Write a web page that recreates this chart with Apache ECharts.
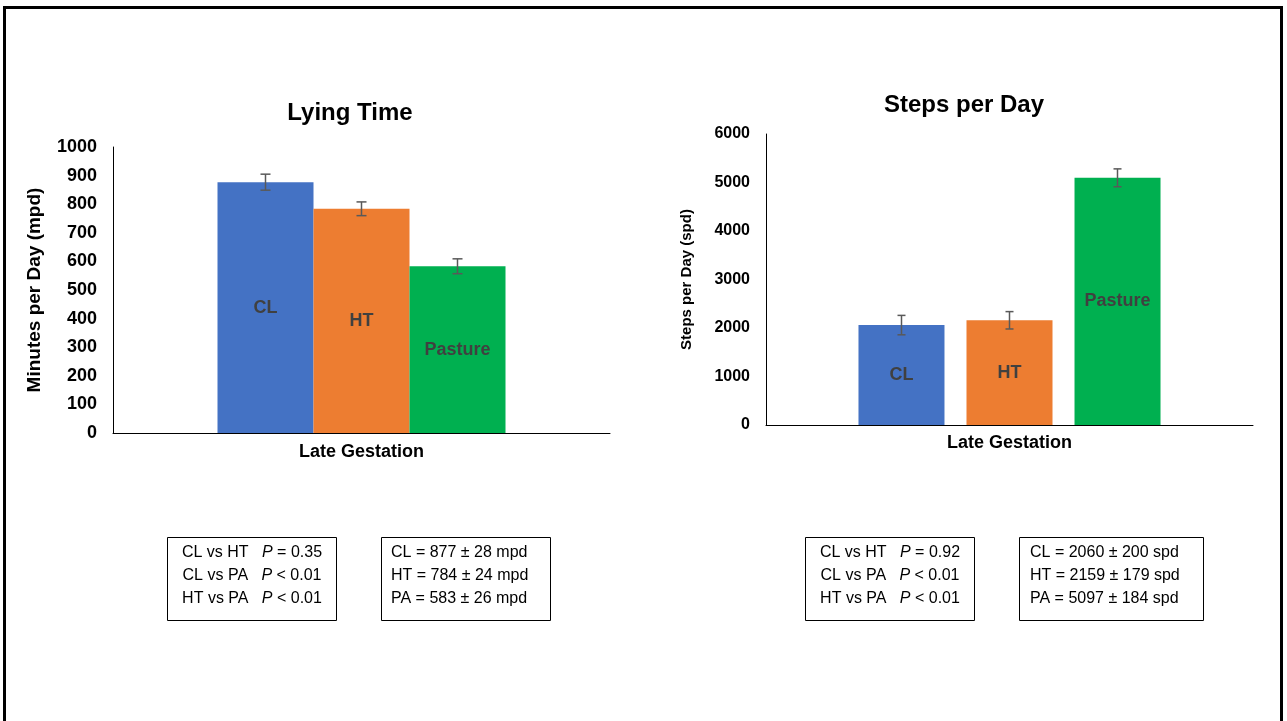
<!DOCTYPE html>
<html>
<head>
<meta charset="utf-8">
<script src="https://cdn.jsdelivr.net/npm/echarts@6/dist/echarts.min.js"></script>
<style>
  html, body { margin: 0; padding: 0; background: #fff; }
  #chart { width: 1287px; height: 721px; }
</style>
</head>
<body>
<div id="chart"></div>
<script>
// Groups and the single period shown on the x axis
const groups = ['CL', 'HT', 'Pasture'];
const groupAbbr = ['CL', 'HT', 'PA'];
const period = ['Late Gestation'];

// Lying time, minutes per day (mean and SD)
const lyingMean = [877, 784, 583];
const lyingSd = [28, 24, 26];

// Steps per day (mean and SD)
const stepsMean = [2060, 2159, 5097];
const stepsSd = [200, 179, 184];

// Pairwise comparisons
const comparisons = ['CL vs HT', 'CL vs PA', 'HT vs PA'];
const lyingP = ['= 0.35', '< 0.01', '< 0.01'];
const stepsP = ['= 0.92', '< 0.01', '< 0.01'];

const colors = ['#4472C4', '#ED7D31', '#00B050'];
const FONT = '"Liberation Sans", Arial, Helvetica, sans-serif';

const chart = echarts.init(document.getElementById('chart'));

// Error whiskers drawn on top of grouped bars
function whiskers(barW, gap, cap) {
  return function (params, api) {
    const k = params.dataIndex;
    const mean = api.value(1), sd = api.value(2);
    const hi = api.coord([0, mean + sd]);
    const lo = api.coord([0, mean - sd]);
    const x = hi[0] + (k - (groups.length - 1) / 2) * (barW + gap);
    const st = { stroke: '#595959', lineWidth: 1.5 };
    return {
      type: 'group',
      children: [
        { type: 'line', shape: { x1: x, y1: hi[1], x2: x, y2: lo[1] }, style: st },
        { type: 'line', shape: { x1: x - cap, y1: hi[1], x2: x + cap, y2: hi[1] }, style: st },
        { type: 'line', shape: { x1: x - cap, y1: lo[1], x2: x + cap, y2: lo[1] }, style: st }
      ]
    };
  };
}

function barSeries(means, gridIdx, barW, gapPct, fontSize) {
  return groups.map((g, i) => ({
    type: 'bar',
    name: g,
    xAxisIndex: gridIdx,
    yAxisIndex: gridIdx,
    data: [means[i]],
    barWidth: barW,
    barGap: gapPct,
    itemStyle: { color: colors[i] },
    label: {
      show: true, position: 'inside', formatter: '{a}',
      color: '#404040', fontWeight: 'bold', fontSize: fontSize, fontFamily: FONT
    }
  }));
}

function yAxis(gridIdx, max, interval, name, nameSize, nameGap, labelSize) {
  return {
    type: 'value', gridIndex: gridIdx, min: 0, max: max, interval: interval,
    name: name, nameLocation: 'middle', nameGap: nameGap,
    nameTextStyle: { color: '#000', fontWeight: 'bold', fontSize: nameSize, fontFamily: FONT },
    axisLine: { show: true, lineStyle: { color: '#000', width: 1 } },
    axisTick: { show: false },
    splitLine: { show: false },
    axisLabel: {
      color: '#000', fontWeight: 'bold', fontSize: labelSize, fontFamily: FONT, margin: 16,
      formatter: v => String(v)
    }
  };
}

function xAxis(gridIdx, margin) {
  return {
    type: 'category', gridIndex: gridIdx, data: period,
    axisLine: { show: true, lineStyle: { color: '#000', width: 1 } },
    axisTick: { show: false },
    axisLabel: { color: '#000', fontWeight: 'bold', fontSize: 18, fontFamily: FONT, margin: margin }
  };
}

// Summary boxes below each chart
function textBox(x, y, w, h) {
  return { type: 'rect', shape: { x: x, y: y, width: w, height: h },
    style: { fill: '#fff', stroke: '#000', lineWidth: 1 }, z: 10 };
}
function pLines(cx, y0, pvals) {
  return comparisons.map((c, i) => ({
    type: 'text', z: 11,
    style: {
      x: cx, y: y0 + i * 23, align: 'center', verticalAlign: 'middle',
      text: '{n|' + c + '   }{i|P}{n| ' + pvals[i] + '}',
      rich: {
        n: { fontSize: 16, fontFamily: FONT, fill: '#000' },
        i: { fontSize: 16, fontFamily: FONT, fontStyle: 'italic', fill: '#000' }
      }
    }
  }));
}
function meanLines(x, y0, means, sds, unit) {
  return groupAbbr.map((a, i) => ({
    type: 'text', z: 11,
    style: {
      x: x, y: y0 + i * 23, align: 'left', verticalAlign: 'middle',
      text: a + ' = ' + means[i] + ' \u00b1 ' + sds[i] + ' ' + unit,
      fontSize: 16, fontFamily: FONT, fill: '#000'
    }
  }));
}

const option = {
  animation: false,
  backgroundColor: '#fff',
  grid: [
    { left: 113, top: 147, width: 497, height: 286 },
    { left: 766, top: 134, width: 487, height: 291 }
  ],
  xAxis: [xAxis(0, 10), xAxis(1, 9)],
  yAxis: [
    yAxis(0, 1000, 100, 'Minutes per Day (mpd)', 19, 69, 18),
    yAxis(1, 6000, 1000, 'Steps per Day (spd)', 15, 72, 16)
  ],
  series: [
    ...barSeries(lyingMean, 0, 96, '0%', 18),
    ...barSeries(stepsMean, 1, 86, '25.6%', 18),
    {
      type: 'custom', xAxisIndex: 0, yAxisIndex: 0, z: 5,
      renderItem: whiskers(96, 0, 5),
      encode: { x: 0, y: 1 },
      data: lyingMean.map((m, i) => [0, m, lyingSd[i]])
    },
    {
      type: 'custom', xAxisIndex: 1, yAxisIndex: 1, z: 5,
      renderItem: whiskers(86, 22, 4),
      encode: { x: 0, y: 1 },
      data: stepsMean.map((m, i) => [0, m, stepsSd[i]])
    }
  ],
  graphic: [
    // outer frame
    { type: 'rect', shape: { x: 4.5, y: 7.5, width: 1277, height: 800 },
      style: { fill: 'none', stroke: '#000', lineWidth: 3 }, z: 20 },
    // chart titles
    { type: 'text', style: { x: 350, y: 113, text: 'Lying Time', align: 'center', verticalAlign: 'middle',
      fontSize: 24, fontWeight: 'bold', fontFamily: FONT, fill: '#000' } },
    { type: 'text', style: { x: 964, y: 105, text: 'Steps per Day', align: 'center', verticalAlign: 'middle',
      fontSize: 24, fontWeight: 'bold', fontFamily: FONT, fill: '#000' } },
    textBox(167.5, 537.5, 169, 83),
    textBox(381.5, 537.5, 169, 83),
    textBox(805.5, 537.5, 169, 83),
    textBox(1019.5, 537.5, 184, 83),
    ...pLines(252, 553, lyingP),
    ...meanLines(391, 553, lyingMean, lyingSd, 'mpd'),
    ...pLines(890, 553, stepsP),
    ...meanLines(1030, 553, stepsMean, stepsSd, 'spd')
  ]
};

chart.setOption(option);
</script>
</body>
</html>
